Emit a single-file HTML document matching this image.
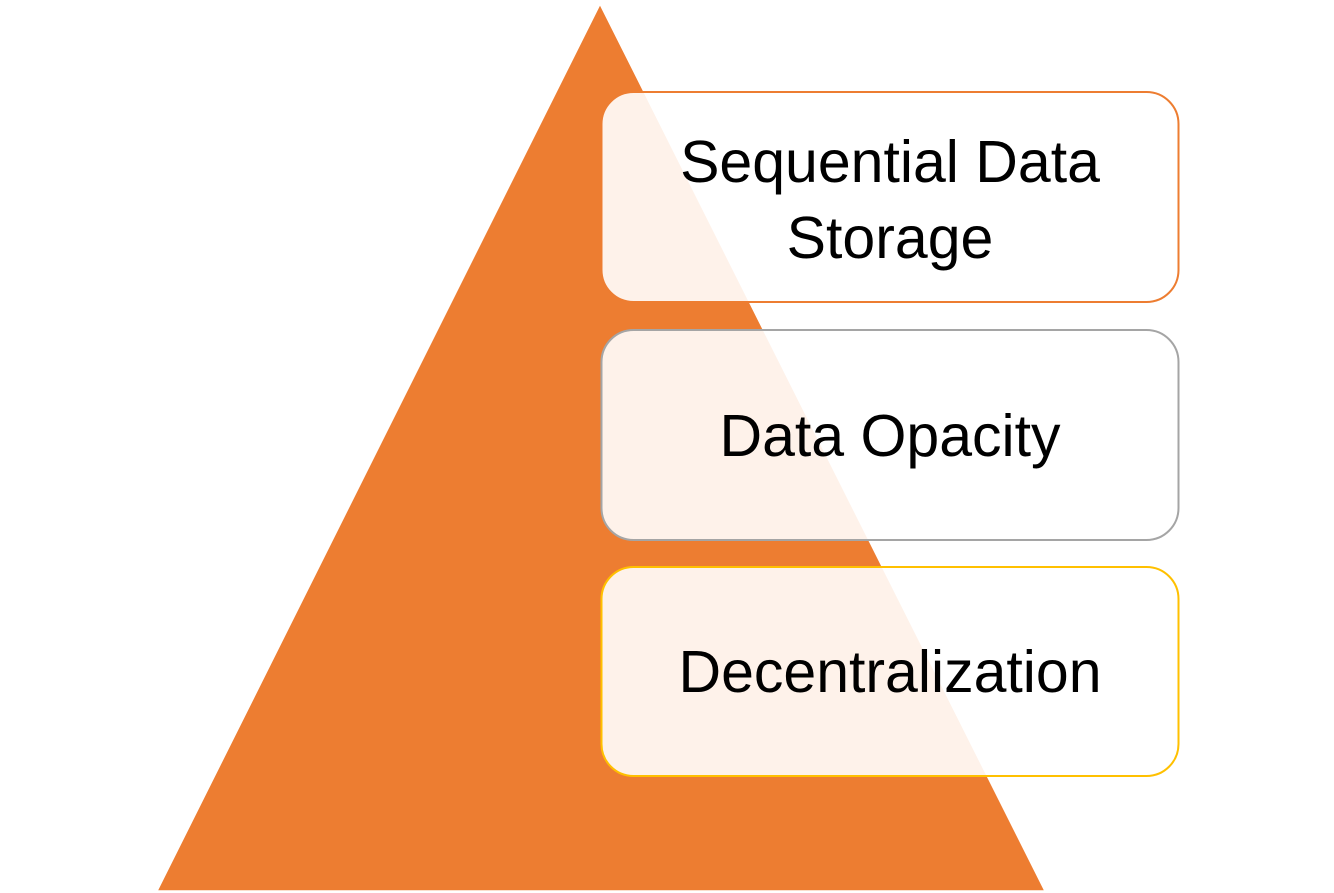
<!DOCTYPE html>
<html><head><style>
html,body{margin:0;padding:0;background:#fff;}
body{width:1334px;height:893px;overflow:hidden;position:relative;font-family:"Liberation Sans",sans-serif;}
svg{position:absolute;left:0;top:0;}
.t{position:absolute;left:591px;width:598px;text-align:center;font-size:59px;color:#000;line-height:76px;}
</style></head><body>
<svg width="1334" height="893">
<polygon points="600,4 157,891 1045,891" fill="#ED7D31" stroke="#fff" stroke-width="1.5"/>
<rect x="601.5" y="92" width="577" height="210" rx="32" fill="#fff" fill-opacity="0.9" stroke="#ED7D31" stroke-width="2"/>
<rect x="601.5" y="330" width="577" height="210" rx="32" fill="#fff" fill-opacity="0.9" stroke="#A5A5A5" stroke-width="2"/>
<rect x="601.5" y="567" width="577" height="209" rx="32" fill="#fff" fill-opacity="0.9" stroke="#FFC000" stroke-width="2"/>
</svg>
<div class="t" style="top:124px;">Sequential Data<br>Storage</div>
<div class="t" style="top:398px;">Data Opacity</div>
<div class="t" style="top:634px;">Decentralization</div>
</body></html>
